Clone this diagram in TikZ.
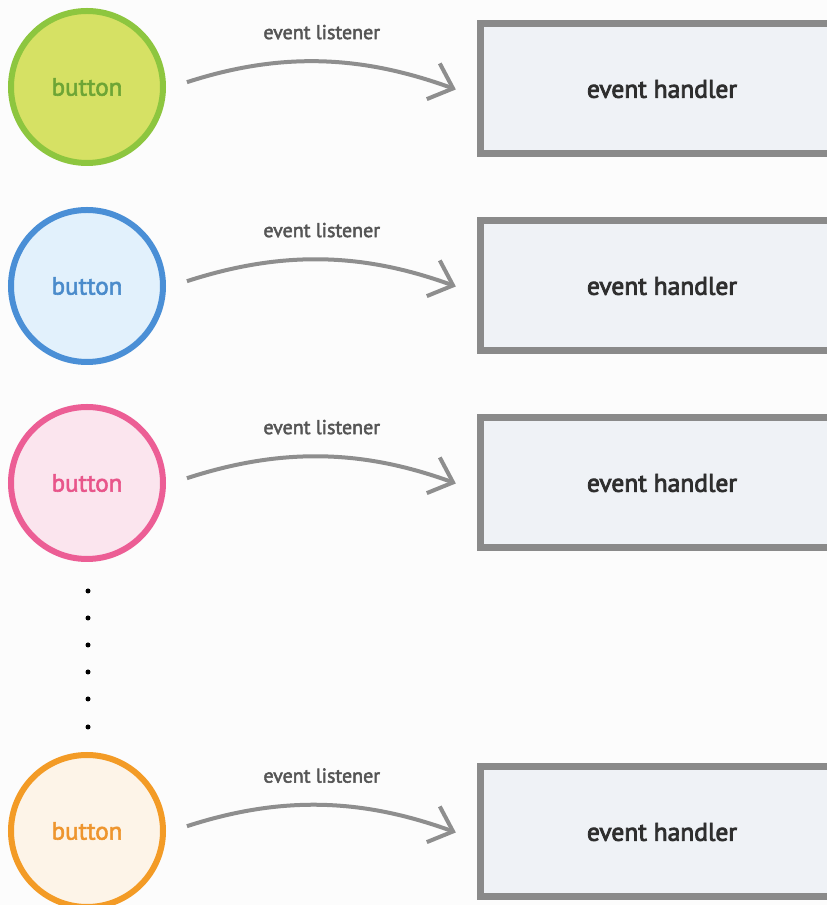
\documentclass[tikz,border=0pt]{standalone}
\usepackage{fontspec}
\setmainfont{PT Sans}
\newfontfamily\labelfont[FakeBold=2.4]{PT Sans}
\newfontfamily\headfont[FakeBold=3.2]{PT Sans}
\usetikzlibrary{
  arrows.meta,
  positioning,
}
\definecolor{paper}{HTML}{FCFCFC}
\definecolor{ink}{HTML}{2E2E2E}
\definecolor{muted}{HTML}{555555}
\definecolor{wire}{HTML}{8E8E8E}
\definecolor{greenFill}{HTML}{D6E164}
\definecolor{greenStroke}{HTML}{8DC63F}
\definecolor{greenText}{HTML}{6DA535}
\definecolor{blueFill}{HTML}{E2F1FC}
\definecolor{blueStroke}{HTML}{4A8FD6}
\definecolor{blueText}{HTML}{4A8BCB}
\definecolor{pinkFill}{HTML}{FBE5EE}
\definecolor{pinkStroke}{HTML}{EC5E95}
\definecolor{pinkText}{HTML}{E8558A}
\definecolor{orangeFill}{HTML}{FDF4E8}
\definecolor{orangeStroke}{HTML}{F39B26}
\definecolor{orangeText}{HTML}{EE952E}
\definecolor{handlerFill}{HTML}{EFF2F6}
\definecolor{handlerStroke}{HTML}{8A8A8A}
\tikzset{
  every node/.style={
    align=center,
    inner sep=2pt,
  },
  btn/.style={
    circle,
    line width=6pt,
    minimum size=152pt,
    font=\labelfont\fontsize{25}{29}\selectfont,
  },
  handler/.style={
    rectangle,
    draw=handlerStroke, line width=7pt,
    fill=handlerFill,
    minimum width=364pt, minimum height=130pt,
    font=\headfont\fontsize{25.5}{29}\selectfont,
    text=ink,
  },
  listen/.style={
    -{Straight Barb[length=21pt,width=38pt]},
    draw=wire, line width=4pt,
    shorten <=22pt, shorten >=22pt,
  },
  listenlabel/.style={
    font=\labelfont\fontsize{20}{23}\selectfont,
    text=muted,
  },
  gap/.style={
    circle, fill=black, inner sep=0pt, minimum size=5pt,
  },
}

\begin{document}
\begin{tikzpicture}[x=1pt, y=1pt]

% ============================================
% Page: 827 x 905, origin bottom left
% Rows (centre y): 818, 619, 422, 74
% ============================================
\fill[paper] (0,0) rectangle (827,905);
\useasboundingbox (0,0) rectangle (827,905);
\clip (0,0) rectangle (827,905);

% ----- Row 1: green -----
\node[btn, draw=greenStroke, fill=greenFill, text=greenText] (btn1) at (87,818) {button};
\node[handler] (hdl1) at (662,816) {event handler};

% ----- Row 2: blue -----
\node[btn, draw=blueStroke, fill=blueFill, text=blueText] (btn2) at (87,619) {button};
\node[handler] (hdl2) at (662,619) {event handler};

% ----- Row 3: pink -----
\node[btn, draw=pinkStroke, fill=pinkFill, text=pinkText] (btn3) at (87,422) {button};
\node[handler] (hdl3) at (662,422) {event handler};

% ----- Gap: vertical dots -----
\foreach \y [count=\i] in {314,287,260,233,206,178}
  \node[gap] (dot\i) at (88,\y) {};

% ----- Row 4: orange -----
\node[btn, draw=orangeStroke, fill=orangeFill, text=orangeText] (btn4) at (87,74) {button};
\node[handler] (hdl4) at (662,73) {event handler};

% ============================================
% Listener edges (start a little low, land below the box centre)
% ============================================
\draw[listen] ([yshift=-2pt]btn1.east) to[out=18, in=160] node[listenlabel, above=20pt]{event listener} ([yshift=-8pt]hdl1.west);
\draw[listen] ([yshift=-2pt]btn2.east) to[out=18, in=160] node[listenlabel, above=20pt]{event listener} ([yshift=-8pt]hdl2.west);
\draw[listen] ([yshift=-2pt]btn3.east) to[out=18, in=160] node[listenlabel, above=20pt]{event listener} ([yshift=-8pt]hdl3.west);
\draw[listen] ([yshift=-2pt]btn4.east) to[out=18, in=160] node[listenlabel, above=20pt]{event listener} ([yshift=-8pt]hdl4.west);

\end{tikzpicture}
\end{document}
